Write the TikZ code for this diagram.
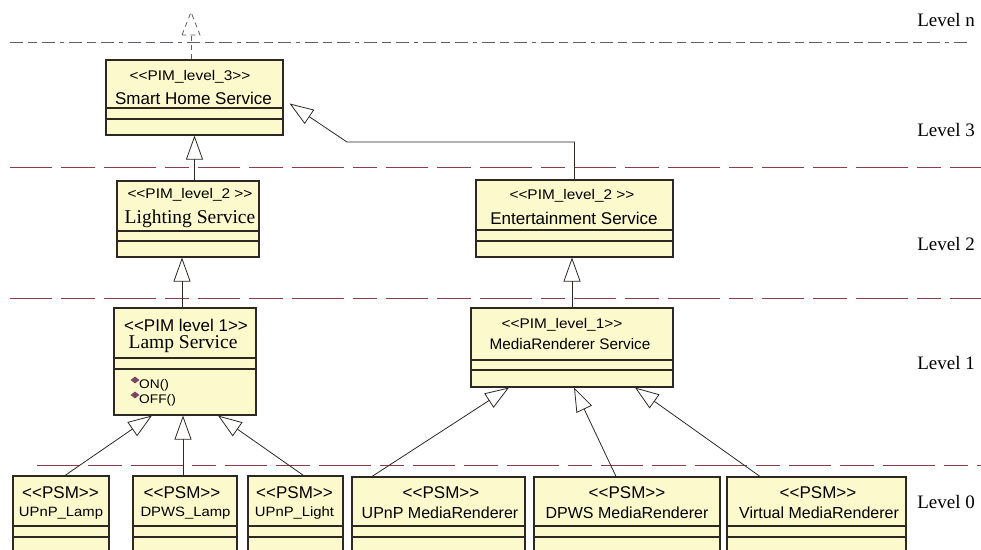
\documentclass[tikz,border=0pt]{standalone}
\usepackage{fontspec}
\setmainfont{Liberation Serif}
\setsansfont{Liberation Sans}
\newfontfamily\widesans[FakeStretch=1.1]{Liberation Sans}
\usetikzlibrary{
  arrows.meta,
  positioning,
  shapes.geometric,
  calc
}
\definecolor{classfill}{RGB}{252,249,205}
\definecolor{classline}{RGB}{45,40,35}
\definecolor{levelred}{RGB}{140,60,70}
\definecolor{levelgray}{RGB}{95,95,105}
\definecolor{opicon}{RGB}{120,70,100}

\newcommand{\stereo}[1]{<\kern0pt<#1>\kern0pt>}
\newcommand{\umlclass}[7]{%
  \node[classbox, minimum width={(#4-#2)*1pt}, minimum height={(#5-#3)*1pt}] (#1) at ({(#2+#4)/2},{(#3+#5)/2}) {};
  \draw[classline, line width=1.1pt] (#2,#6) -- (#4,#6) (#2,#7) -- (#4,#7);
}

\begin{document}
\begin{tikzpicture}[x=1pt, y=-1pt,
  classbox/.style={rectangle, draw=classline, fill=classfill, line width=1.1pt, inner sep=0pt},
  pimst/.style={font=\widesans\fontsize{14}{14}\selectfont, inner sep=0pt},
  psmst/.style={font=\sffamily\fontsize{17}{17}\selectfont, inner sep=0pt},
  sansname/.style={font=\sffamily\fontsize{17}{17}\selectfont, inner sep=0pt},
  serifname/.style={font=\rmfamily\fontsize{19.5}{19.5}\selectfont, inner sep=0pt},
  smallname/.style={font=\widesans\fontsize{13.5}{13.5}\selectfont, inner sep=0pt},
  optext/.style={font=\widesans\fontsize{12.5}{12.5}\selectfont, inner sep=0pt, anchor=west},
  opmark/.style={diamond, fill=opicon, inner sep=0pt, minimum width=9pt, minimum height=7pt},
  levellabel/.style={font=\rmfamily\fontsize{19}{19}\selectfont, inner sep=0pt, anchor=east},
  levelred/.style={draw=levelred, line width=1pt, dash pattern=on 42pt off 9pt on 34pt off 9pt on 52pt off 9pt on 24pt off 9pt},
  levelgray/.style={draw=levelgray, line width=1pt, dash pattern=on 13pt off 5pt on 9pt off 5pt on 13pt off 5pt on 4pt off 5pt},
  gen/.style={draw=classline, line width=0.8pt, -{Triangle[open, length=24pt, width=17pt]}},
  realize/.style={draw=levelgray, line width=0.8pt, dash pattern=on 5pt off 4pt}]

  \useasboundingbox (0,0) rectangle (981,549);
  \clip (0,0) rectangle (981,549);
  \fill[white] (0,0) rectangle (981,549);

  \draw[levelgray] (10,42) -- (970,42);
  \draw[levelred] (10,167) -- (981,167);
  \draw[levelred] (10,298) -- (981,298);
  \draw[levelred] (37,465) -- (981,465);

  \node[levellabel] (lvln) at (975,20) {Level n};
  \node[levellabel] (lvl3) at (975,130) {Level 3};
  \node[levellabel] (lvl2) at (975,244) {Level 2};
  \node[levellabel] (lvl1) at (975,363) {Level 1};
  \node[levellabel] (lvl0) at (975,502) {Level 0};

  \umlclass{smart}{106}{60}{283}{135}{108}{119}
  \umlclass{light}{117}{181}{259}{257}{231}{241}
  \umlclass{ent}{476}{180}{673}{257}{230}{241}
  \umlclass{lamp}{114}{308}{256}{415}{358}{369}
  \umlclass{media}{471}{308}{673}{387}{360}{370}
  \umlclass{upnplamp}{13}{476}{109}{560}{526}{537}
  \umlclass{dpwslamp}{133}{476}{237}{560}{526}{537}
  \umlclass{upnplight}{248}{476}{343}{560}{526}{537}
  \umlclass{upnpmr}{352}{477}{525}{560}{526}{537}
  \umlclass{dpwsmr}{534}{477}{720}{560}{526}{537}
  \umlclass{virtmr}{727}{477}{906}{560}{526}{537}

  \node[pimst] (smartst) at (190,77) {\stereo{PIM\_level\_3}};
  \node[sansname] (smartnm) at (193.5,98) {Smart Home Service};
  \node[pimst] (lightst) at (190,195) {\stereo{PIM\_level\_2 }};
  \node[serifname] (lightnm) at (190,219) {Lighting Service};
  \node[pimst] (entst) at (572,196) {\stereo{PIM\_level\_2 }};
  \node[sansname] (entnm) at (574,218) {Entertainment Service};
  \node[psmst] (lampst) at (186,325) {\stereo{PIM level 1}};
  \node[serifname] (lampnm) at (183,344) {Lamp Service};
  \node[pimst] (mediast) at (562,325) {\stereo{PIM\_level\_1}};
  \node[sansname, font=\sffamily\fontsize{15.3}{15.3}\selectfont] (medianm) at (570,344) {MediaRenderer Service};

  \node[opmark] (onmk) at (135,380) {};
  \node[optext] (ontx) at (139,385) {ON()};
  \node[opmark] (offmk) at (135,395) {};
  \node[optext] (offtx) at (139,400) {OFF()};

  \node[psmst] (upnplampst) at (60.5,493) {\stereo{PSM}};
  \node[smallname] (upnplampnm) at (61,513) {UPnP\_Lamp};
  \node[psmst] (dpwslampst) at (182,493) {\stereo{PSM}};
  \node[smallname] (dpwslampnm) at (185.5,513) {DPWS\_Lamp};
  \node[psmst] (upnplightst) at (294.5,493) {\stereo{PSM}};
  \node[smallname] (upnplightnm) at (294.5,513) {UPnP\_Light};
  \node[psmst] (upnpmrst) at (441,493) {\stereo{PSM}};
  \node[sansname, font=\sffamily\fontsize{16}{16}\selectfont] (upnpmrnm) at (440,513) {UPnP MediaRenderer};
  \node[psmst] (dpwsmrst) at (627,493) {\stereo{PSM}};
  \node[sansname, font=\sffamily\fontsize{16}{16}\selectfont] (dpwsmrnm) at (627,513) {DPWS MediaRenderer};
  \node[psmst] (virtmrst) at (818,493) {\stereo{PSM}};
  \node[sansname, font=\sffamily\fontsize{16}{16}\selectfont] (virtmrnm) at (819,513) {Virtual MediaRenderer};

  \coordinate (upper) at (191,35);
  \coordinate (bend) at (347,142);
  \draw[realize] ($(smart.north)+(-3.5,0)$) -- (upper);
  \draw[realize] ($(upper)+(-9,0)$) -- (191,12) -- ($(upper)+(9,0)$) -- cycle;

  \draw[gen] (smart.south |- light.north) -- (smart.south);
  \draw[gen] (ent.north) |- (bend) -- ($(smart.east)+(6,6)$);
  \draw[gen] ($(lamp.north)+(-3,0)$) -- ($(lamp.north |- light.south)+(-3,0)$);
  \draw[gen] (media.north) -- (media.north |- ent.south);

  \draw[gen] ($(upnplamp.north)+(4,0)$) -- ($(lamp.south)+(-33,0)$);
  \draw[gen] ($(dpwslamp.north)+(-2,0)$) -- ($(lamp.south)+(-2,0)$);
  \draw[gen] ($(upnplight.north)+(8,0)$) -- ($(lamp.south)+(33,0)$);
  \draw[gen] ($(upnpmr.north)+(-66.5,0)$) -- ($(media.south)+(-63,0)$);
  \draw[gen] ($(dpwsmr.north)+(-11,0)$) -- ($(media.south)+(2,0)$);
  \draw[gen] ($(virtmr.north)+(-56.5,0)$) -- ($(media.south)+(63,0)$);
\end{tikzpicture}
\end{document}
